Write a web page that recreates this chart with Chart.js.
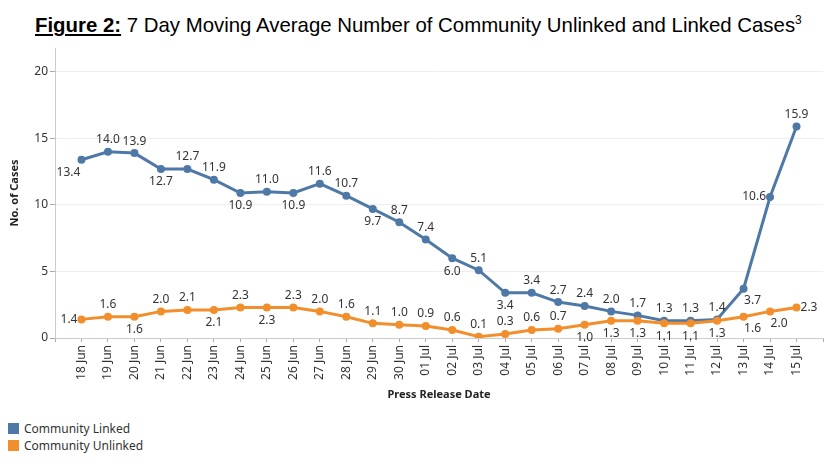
<!DOCTYPE html>
<html>
<head>
<meta charset="utf-8">
<script src="https://cdn.jsdelivr.net/npm/chart.js@4"></script>
<style>
  body { margin: 0; width: 830px; height: 468px; background: #fff; position: relative; overflow: hidden; }
  #title { position: absolute; left: 35px; top: 10px; font: 20.4px "Liberation Sans", Arial, sans-serif; line-height: 20px; color: #000; white-space: nowrap; }
  #title b { text-decoration: underline; }
  #title sup { font-size: 12px; }
  #wrap { position: absolute; left: 0; top: 40px; width: 830px; height: 370px; }
  #legend { position: absolute; left: 8px; top: 420px; font: 12px "Noto Sans", sans-serif; color: #333; }
  .item { height: 17px; display: flex; align-items: center; }
  .box { width: 11px; height: 11px; margin-right: 5px; }
</style>
</head>
<body>
<div id="title"><b>Figure 2:</b> 7 Day Moving Average Number of Community Unlinked and Linked Cases<sup>3</sup></div>
<div id="wrap"><canvas id="myChart"></canvas></div>
<div id="legend"></div>
<script>
const dates = [
  "18 Jun", "19 Jun", "20 Jun", "21 Jun", "22 Jun", "23 Jun", "24 Jun", "25 Jun", "26 Jun", "27 Jun",
  "28 Jun", "29 Jun", "30 Jun", "01 Jul", "02 Jul", "03 Jul", "04 Jul", "05 Jul", "06 Jul", "07 Jul",
  "08 Jul", "09 Jul", "10 Jul", "11 Jul", "12 Jul", "13 Jul", "14 Jul", "15 Jul"
];
const linked = [13.4, 14.0, 13.9, 12.7, 12.7, 11.9, 10.9, 11.0, 10.9, 11.6, 10.7, 9.7, 8.7, 7.4,
  6.0, 5.1, 3.4, 3.4, 2.7, 2.4, 2.0, 1.7, 1.3, 1.3, 1.4, 3.7, 10.6, 15.9];
const unlinked = [1.4, 1.6, 1.6, 2.0, 2.1, 2.1, 2.3, 2.3, 2.3, 2.0, 1.6, 1.1, 1.0, 0.9,
  0.6, 0.1, 0.3, 0.6, 0.7, 1.0, 1.3, 1.3, 1.1, 1.1, 1.3, 1.6, 2.0, 2.3];
const yTicks = [0, 5, 10, 15, 20];

// where each value label sits relative to its point
const linkedPos = ["bl", "a", "a", "b", "a", "a", "b", "a", "b", "a", "a", "b", "a", "a",
  "b", "a", "b", "a", "a", "a", "a", "a", "a", "a", "a", "br", "l", "a"];
const unlinkedPos = ["l", "a", "b", "a", "a", "b", "a", "b", "a", "a", "a", "a", "a", "a",
  "a", "a", "a", "a", "a", "b", "b", "b", "b", "b", "b", "br", "br", "r"];

const BLUE = "#4e79a7";
const ORANGE = "#f28e2b";
const FONT = "'Noto Sans', sans-serif";

const valueLabels = {
  id: "valueLabels",
  afterDatasetsDraw(chart) {
    const ctx = chart.ctx;
    ctx.save();
    ctx.font = "12px " + FONT;
    ctx.fillStyle = "#333";
    chart.data.datasets.forEach((ds, di) => {
      const meta = chart.getDatasetMeta(di);
      meta.data.forEach((pt, i) => {
        const txt = ds.raw[i].toFixed(1);
        const p = ds.labelPos[i];
        let x = pt.x, y = pt.y;
        ctx.textAlign = "center";
        ctx.textBaseline = "middle";
        if (p === "a") y -= 12;
        else if (p === "b") y += 13;
        else if (p === "bl") { y += 13; x -= 13; }
        else if (p === "br") { y += 12; x += 9; }
        else if (p === "l") { ctx.textAlign = "right"; x -= 4; }
        else if (p === "r") { ctx.textAlign = "left"; x += 4; }
        ctx.fillText(txt, x, y);
      });
    });
    ctx.restore();
  }
};

const ctx = document.getElementById("myChart").getContext("2d");
const myChart = new Chart(ctx, {
  type: "line",
  data: {
    datasets: [
      {
        label: "Community Linked",
        data: linked.map((v, i) => ({ x: i, y: v })),
        raw: linked,
        labelPos: linkedPos,
        borderColor: BLUE,
        backgroundColor: BLUE,
        borderWidth: 3,
        pointRadius: 2.5,
        tension: 0,
        order: 1,
      },
      {
        label: "Community Unlinked",
        data: unlinked.map((v, i) => ({ x: i, y: v })),
        raw: unlinked,
        labelPos: unlinkedPos,
        borderColor: ORANGE,
        backgroundColor: ORANGE,
        borderWidth: 3,
        pointRadius: 2.5,
        tension: 0,
        order: 0,
      },
    ],
  },
  options: {
    responsive: true,
    maintainAspectRatio: false,
    animation: false,
    layout: { padding: { top: 8, right: 3, left: 0, bottom: 0 } },
    plugins: {
      legend: { display: false },
      tooltip: { enabled: false },
    },
    scales: {
      x: {
        type: "linear",
        min: -1,
        max: dates.length,
        afterFit: (s) => { s.height = 72; s.paddingLeft = 0; s.paddingRight = 0; },
        afterBuildTicks: (s) => { s.ticks = s.ticks.filter((t) => Number.isInteger(t.value)); },
        ticks: {
          stepSize: 1,
          autoSkip: false,
          maxRotation: 90,
          minRotation: 90,
          padding: 3,
          color: "#333",
          font: { family: FONT, size: 12 },
          callback: (v) => dates[v] || "",
        },
        grid: { drawOnChartArea: false, tickLength: 4, color: "#aaa" },
        border: { color: "#ccc" },
        title: {
          display: true,
          text: "Press Release Date",
          color: "#222",
          font: { family: FONT, size: 11, weight: "bold" },
          padding: { top: 0, bottom: 8.4 },
        },
      },
      y: {
        min: 0,
        max: 21.8,
        afterFit: (s) => { s.width = 55; s.paddingTop = 0; s.paddingBottom = 0; },
        afterBuildTicks: (s) => { s.ticks = yTicks.map((v) => ({ value: v })); },
        ticks: {
          padding: 2,
          color: "#333",
          font: { family: FONT, size: 12 },
        },
        grid: { color: "#eeeeee", tickLength: 5, tickColor: "#aaa" },
        border: { color: "#ccc" },
        title: {
          display: true,
          text: "No. of Cases",
          color: "#222",
          font: { family: FONT, size: 11, weight: "bold" },
          padding: { top: 8.4, bottom: 0 },
        },
      },
    },
  },
  plugins: [valueLabels],
});

// legend, stacked vertically at bottom left
const legend = document.getElementById("legend");
myChart.data.datasets.forEach((ds) => {
  const item = document.createElement("div");
  item.className = "item";
  item.innerHTML = '<span class="box" style="background:' + ds.borderColor + '"></span>' + ds.label;
  legend.appendChild(item);
});
</script>
</body>
</html>
